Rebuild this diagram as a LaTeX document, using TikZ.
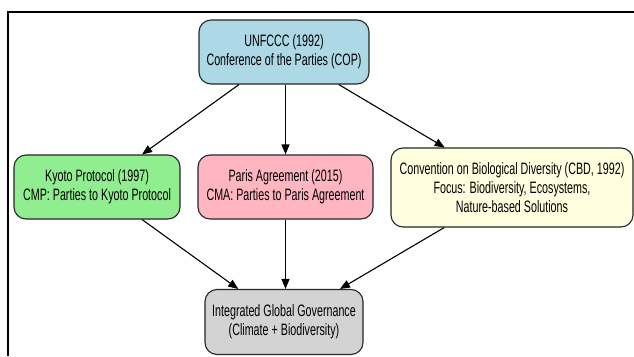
\documentclass[tikz,border=0pt]{standalone}
\usepackage{fontspec}
\setmainfont{Liberation Sans}[FakeStretch=0.65]
\usepackage{tikz}
\usetikzlibrary{positioning}
\usetikzlibrary{arrows.meta}

\definecolor{copblue}{HTML}{ADD8E6}
\definecolor{kyotogreen}{HTML}{90EE90}
\definecolor{parispink}{HTML}{FFB6C1}
\definecolor{cbdyellow}{HTML}{FFFFE0}
\definecolor{govgray}{HTML}{D3D3D3}

\begin{document}
\begin{tikzpicture}[x=1pt,y=-1pt,
		box/.style={draw=black!85,line width=1.1pt,rounded corners=12pt,align=center,
			inner sep=0pt,font=\fontsize{16.5}{19.3}\selectfont},
		link/.style={-{Triangle[length=10pt,width=8pt]},line width=1.1pt}]
		\useasboundingbox (0,0) rectangle (634,356);
		\draw [line width=1.4pt] (634,12)--(8,12)--(8,356);
		\node (cop) at (284,52) [box,fill=copblue,minimum width=170pt,minimum height=64pt] {UNFCCC (1992)\\Conference of the Parties (COP)};
		\node (kyoto) at (97,187) [box,fill=kyotogreen,minimum width=166pt,minimum height=64pt] {Kyoto Protocol (1997)\\CMP: Parties to Kyoto Protocol};
		\node (paris) at (285.5,187) [box,fill=parispink,minimum width=175pt,minimum height=64pt] {Paris Agreement (2015)\\CMA: Parties to Paris Agreement};
		\node (cbd) at (512,187.5) [box,fill=cbdyellow,minimum width=242pt,minimum height=79pt] {Convention on Biological Diversity (CBD, 1992)\\Focus: Biodiversity, Ecosystems,\\Nature-based Solutions};
		\node (gov) at (284,322) [box,fill=govgray,minimum width=158pt,minimum height=65pt] {Integrated Global Governance\\(Climate + Biodiversity)};
		\draw [link] (cop)--(kyoto);
		\draw [link] (cop.south -| paris)--(paris);
		\draw [link] (cop)--(cbd);
		\draw [link] (kyoto)--(gov);
		\draw [link] (paris)--(gov.north -| paris);
		\draw [link] (cbd)--(gov);
	\end{tikzpicture}
\end{document}
